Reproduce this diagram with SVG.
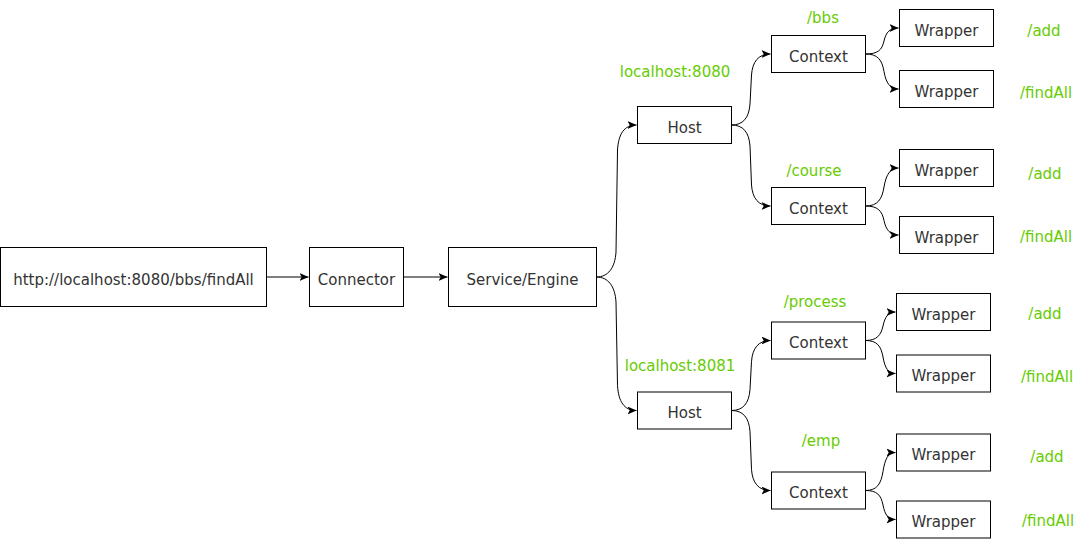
<svg xmlns="http://www.w3.org/2000/svg" width="1079" height="539" viewBox="0 0 1079 539">
<defs>
<marker id="arr" markerWidth="11" markerHeight="9" refX="9" refY="4" orient="auto" markerUnits="userSpaceOnUse">
<path d="M0,0 L9,4 L0,8 L2.2,4 Z" fill="#000"/>
</marker>
<style>
.box{fill:#fff;stroke:#000;stroke-width:1}
.t{font-family:"DejaVu Sans",sans-serif;font-size:15px;fill:#333;text-anchor:middle;dominant-baseline:central}
.g{font-family:"DejaVu Sans",sans-serif;font-size:15px;fill:#66cc00;text-anchor:middle;dominant-baseline:central}
.c{fill:none;stroke:#000;stroke-width:1;marker-end:url(#arr)}
</style>
</defs>
<rect width="1079" height="539" fill="#fff"/>
<g id="connectors">
<path class="c" d="M266.5,277 L308.5,277"/>
<path class="c" d="M403.5,277 L447.5,277"/>
<path class="c" d="M596.5,277 C608,277 615,268 616,252 L617.5,150 C618.5,134 624,125 636.5,125"/>
<path class="c" d="M596.5,277 C608,277 615,286 616,302 L617.5,385.5 C618.5,401.5 624,410.5 636.5,410.5"/>
<path class="c" d="M731.5,125 C743,125 749,118 750,104 L751.5,75 C752.5,62 758,54 770.5,54"/>
<path class="c" d="M731.5,125 C743,125 749,132 750,146 L751.5,185 C752.5,198 758,206 770.5,206"/>
<path class="c" d="M731.5,410.5 C743,410.5 749,403.5 750,389.5 L751.5,361.5 C752.5,348.5 758,340.5 770.5,340.5"/>
<path class="c" d="M731.5,410.5 C743,410.5 749,417.5 750,431.5 L751.5,469.5 C752.5,482.5 758,490.5 770.5,490.5"/>
<path class="c" d="M865.5,54 C878,54 882,50 884,41 C886,32 890,28 898.5,28"/>
<path class="c" d="M865.5,54 C878,54 882,60 884,71.5 C886,83 890,89 898.5,89"/>
<path class="c" d="M865.5,206 C878,206 882,199 884,187 C886,175 890,168 898.5,168"/>
<path class="c" d="M865.5,206 C878,206 882,211 884,220.5 C886,230 890,235 898.5,235"/>
<path class="c" d="M865.5,340.5 C877,340.5 881,335 883,326 C885,317 888,312 895.5,312"/>
<path class="c" d="M865.5,340.5 C877,340.5 881,346 883,357 C885,368 888,373.5 895.5,373.5"/>
<path class="c" d="M865.5,490.5 C877,490.5 881,484 883,471.5 C885,459 888,452.5 895.5,452.5"/>
<path class="c" d="M865.5,490.5 C877,490.5 881,495 883,505 C885,515 888,519.5 895.5,519.5"/>
</g>
<g id="url"><rect class="box" x="0.5" y="247.5" width="266" height="59"/><text class="t" x="133.5" y="279.5">http://localhost:8080/bbs/findAll</text></g>
<g id="connector"><rect class="box" x="309.5" y="247.5" width="94" height="59"/><text class="t" x="356.5" y="279.5">Connector</text></g>
<g id="engine"><rect class="box" x="448.5" y="247.5" width="148" height="59"/><text class="t" x="522.5" y="279.5">Service/Engine</text></g>
<g id="host1"><rect class="box" x="637.5" y="106.5" width="94" height="37"/><text class="t" x="684.5" y="127.5">Host</text></g>
<g id="host2"><rect class="box" x="637.5" y="392" width="94" height="37"/><text class="t" x="684.5" y="413">Host</text></g>
<g id="ctx-bbs"><rect class="box" x="771.5" y="35.5" width="94" height="37"/><text class="t" x="818.5" y="56.5">Context</text></g>
<g id="ctx-course"><rect class="box" x="771.5" y="187.5" width="94" height="37"/><text class="t" x="818.5" y="208.5">Context</text></g>
<g id="ctx-process"><rect class="box" x="771.5" y="322" width="94" height="37"/><text class="t" x="818.5" y="343">Context</text></g>
<g id="ctx-emp"><rect class="box" x="771.5" y="472" width="94" height="37"/><text class="t" x="818.5" y="493">Context</text></g>
<g id="w1"><rect class="box" x="899.5" y="9.5" width="94" height="37"/><text class="t" x="946.5" y="30.5">Wrapper</text></g>
<g id="w2"><rect class="box" x="899.5" y="70.5" width="94" height="37"/><text class="t" x="946.5" y="91.5">Wrapper</text></g>
<g id="w3"><rect class="box" x="899.5" y="149.5" width="94" height="37"/><text class="t" x="946.5" y="170.5">Wrapper</text></g>
<g id="w4"><rect class="box" x="899.5" y="216.5" width="94" height="37"/><text class="t" x="946.5" y="237.5">Wrapper</text></g>
<g id="w5"><rect class="box" x="896.5" y="293.5" width="94" height="37"/><text class="t" x="943.5" y="314.5">Wrapper</text></g>
<g id="w6"><rect class="box" x="896.5" y="355" width="94" height="37"/><text class="t" x="943.5" y="376">Wrapper</text></g>
<g id="w7"><rect class="box" x="896.5" y="434" width="94" height="37"/><text class="t" x="943.5" y="455">Wrapper</text></g>
<g id="w8"><rect class="box" x="896.5" y="501" width="94" height="37"/><text class="t" x="943.5" y="522">Wrapper</text></g>
<g id="labels">
<text class="g" x="823" y="18">/bbs</text>
<text class="g" x="675" y="72">localhost:8080</text>
<text class="g" x="1044" y="31">/add</text>
<text class="g" x="1046" y="93">/findAll</text>
<text class="g" x="814" y="171">/course</text>
<text class="g" x="1045" y="174">/add</text>
<text class="g" x="1046" y="237">/findAll</text>
<text class="g" x="815" y="302">/process</text>
<text class="g" x="680" y="366">localhost:8081</text>
<text class="g" x="1045" y="314">/add</text>
<text class="g" x="1047" y="377">/findAll</text>
<text class="g" x="821" y="441">/emp</text>
<text class="g" x="1047" y="457">/add</text>
<text class="g" x="1048" y="521">/findAll</text>
</g>
</svg>
